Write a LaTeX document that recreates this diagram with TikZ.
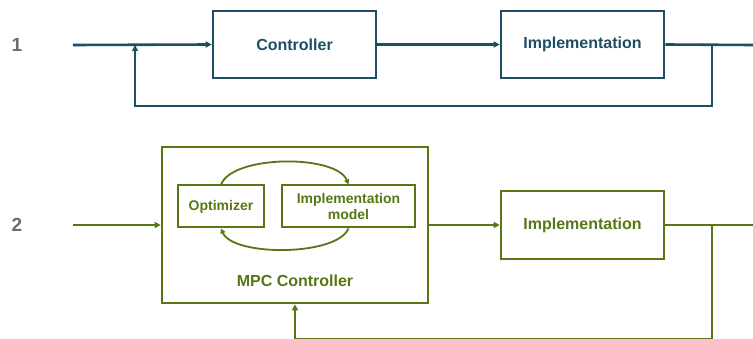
\documentclass[tikz,border=0pt]{standalone}
\usepackage{fontspec}
\setmainfont{Liberation Sans}
\usetikzlibrary{arrows.meta,calc}
\definecolor{tealc}{HTML}{1D4F64}
\definecolor{greenc}{HTML}{567714}
\definecolor{greyc}{HTML}{6B6B6B}
\tikzset{
  box/.style={draw,line width=2.6pt,minimum width=#1,inner sep=0pt,font=\fontsize{16}{18}\selectfont\bfseries},
  wire/.style={line width=2.6pt},
  arr/.style={wire,-{Triangle[length=6pt,width=6pt]}},
  num/.style={text=greyc,font=\fontsize{19}{21}\selectfont\bfseries},
  small/.style={font=\fontsize{14}{16}\selectfont\bfseries},
}
\begin{document}
\begin{tikzpicture}[x=1pt,y=-1pt]
\useasboundingbox (0,0) rectangle (753,339);
% row 1
\node[num] (n1) at (17,45) {1};
\begin{scope}[tealc]
\node[box=163pt,minimum height=67pt,text=tealc] (ctrl) at (294.5,44.5) {Controller};
\node[box=163pt,minimum height=67pt,text=tealc] (imp1) at (582.5,44.5) {Implementation};
\coordinate (in1) at (73,45);
\coordinate (out1) at (753,45);
\coordinate (s1) at (712,45);
\coordinate (c1) at (712,106);
\coordinate (c2) at (135,106);
\coordinate (j1) at (135,45);
\draw[arr] (in1) -- (ctrl.west);
\draw[arr] (ctrl.east) -- (imp1.west);
\draw[wire] (imp1.east) -- (out1);
\draw[arr] (s1) -- (c1) -- (c2) -- (j1);
\end{scope}
% row 2
\node[num] (n2) at (17,225) {2};
\begin{scope}[greenc]
\node[box=266pt,minimum height=156pt] (mpc) at (295,225) {};
\node[text=greenc,font=\fontsize{16}{18}\selectfont\bfseries] (mpcl) at (295,281) {MPC Controller};
\node[box=86pt,minimum height=42pt,line width=2pt,text=greenc,small] (opt) at (221,206.5) {Optimizer};
\node[box=133pt,minimum height=42pt,line width=2pt,text=greenc,align=center,small] (implm) at (348.5,206.5) {Implementation\\model};
\node[box=163pt,minimum height=68pt,text=greenc] (imp2) at (582.5,225) {Implementation};
\draw[wire,line width=1.8pt,-{Triangle[length=5pt,width=5pt]}] (opt.north) .. controls +(12,-30) and +(-12,-30) .. (implm.north);
\draw[wire,line width=1.8pt,-{Triangle[length=5pt,width=5pt]}] (implm.south) .. controls +(-12,28) and +(12,28) .. (opt.south);
\coordinate (in2) at (73,225);
\coordinate (out2) at (753,225);
\coordinate (s2) at (712,225);
\coordinate (d1) at (712,339);
\coordinate (d2) at (295,339);
\draw[arr] (in2) -- (mpc.west);
\draw[arr] (mpc.east) -- (imp2.west);
\draw[wire] (imp2.east) -- (out2);
\draw[arr] (s2) -- (d1) -- (d2) -- (mpc.south);
\end{scope}
\end{tikzpicture}
\end{document}
